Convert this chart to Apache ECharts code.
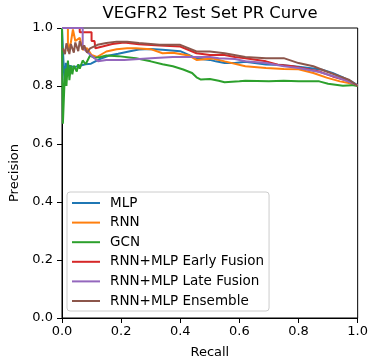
<!DOCTYPE html>
<html>
<head>
<meta charset="utf-8">
<script src="https://cdn.jsdelivr.net/npm/echarts@6/dist/echarts.min.js"></script>
<style>html,body{margin:0;padding:0;background:#fff;}#c{width:371px;height:364px;}</style>
</head>
<body>
<div id="c"></div>
<script>
const seriesNames = ['MLP', 'RNN', 'GCN', 'RNN+MLP Early Fusion', 'RNN+MLP Late Fusion', 'RNN+MLP Ensemble'];
const tickLabels = ['0.0', '0.2', '0.4', '0.6', '0.8', '1.0'];

const mlpRecall    = [0, 0.004, 0.006, 0.01, 0.013, 0.018, 0.025, 0.04, 0.06, 0.08, 0.098, 0.13, 0.16, 0.19, 0.23, 0.26, 0.3, 0.34, 0.4, 0.455, 0.5, 0.52, 0.55, 0.585, 0.62, 0.69, 0.75, 0.8, 0.85, 0.88, 0.915, 0.95, 0.98, 1.0];
const mlpPrecision = [1.0, 1.0, 0.86, 0.80, 0.88, 0.84, 0.87, 0.865, 0.87, 0.875, 0.877, 0.894, 0.905, 0.911, 0.92, 0.926, 0.928, 0.925, 0.92, 0.895, 0.89, 0.885, 0.879, 0.879, 0.884, 0.874, 0.872, 0.866, 0.86, 0.856, 0.845, 0.83, 0.815, 0.802];

const rnnRecall    = [0, 0.02, 0.02, 0.03, 0.037, 0.045, 0.06, 0.07, 0.085, 0.1, 0.118, 0.15, 0.185, 0.22, 0.25, 0.3, 0.34, 0.375, 0.43, 0.455, 0.51, 0.55, 0.62, 0.69, 0.75, 0.8, 0.85, 0.895, 0.94, 0.97, 1.0];
const rnnPrecision = [1.0, 1.0, 0.92, 0.95, 0.995, 0.955, 0.966, 0.925, 0.93, 0.907, 0.90, 0.919, 0.927, 0.93, 0.93, 0.927, 0.913, 0.915, 0.905, 0.89, 0.895, 0.885, 0.868, 0.862, 0.859, 0.858, 0.845, 0.829, 0.816, 0.81, 0.802];

const gcnRecall    = [0, 0.003, 0.003, 0.008, 0.012, 0.015, 0.02, 0.025, 0.03, 0.035, 0.04, 0.05, 0.055, 0.06, 0.07, 0.08, 0.095, 0.11, 0.13, 0.15, 0.19, 0.25, 0.3, 0.34, 0.375, 0.41, 0.44, 0.455, 0.47, 0.5, 0.53, 0.55, 0.6, 0.62, 0.7, 0.75, 0.8, 0.87, 0.9, 0.95, 0.98, 1.0];
const gcnPrecision = [1.0, 1.0, 0.67, 0.80, 0.86, 0.80, 0.888, 0.82, 0.87, 0.84, 0.87, 0.85, 0.875, 0.86, 0.888, 0.875, 0.905, 0.897, 0.90, 0.905, 0.903, 0.896, 0.885, 0.875, 0.868, 0.857, 0.845, 0.83, 0.822, 0.824, 0.818, 0.813, 0.816, 0.818, 0.816, 0.818, 0.816, 0.816, 0.808, 0.801, 0.803, 0.80];

const earlyRecall    = [0, 0.06, 0.06, 0.10, 0.10, 0.11, 0.113, 0.14, 0.17, 0.21, 0.26, 0.33, 0.4, 0.455, 0.5, 0.55, 0.585, 0.62, 0.69, 0.73, 0.78, 0.87, 0.915, 0.96, 1.0];
const earlyPrecision = [1.0, 1.0, 0.985, 0.985, 0.955, 0.955, 0.93, 0.937, 0.945, 0.95, 0.944, 0.94, 0.936, 0.913, 0.907, 0.907, 0.90, 0.896, 0.885, 0.873, 0.868, 0.85, 0.833, 0.82, 0.802];

const lateRecall    = [0, 0.07, 0.07, 0.083, 0.105, 0.122, 0.15, 0.21, 0.3, 0.375, 0.455, 0.5, 0.53, 0.585, 0.62, 0.69, 0.75, 0.8, 0.87, 0.93, 0.97, 1.0];
const latePrecision = [1.0, 1.0, 0.932, 0.919, 0.90, 0.885, 0.89, 0.89, 0.896, 0.90, 0.90, 0.90, 0.896, 0.893, 0.885, 0.879, 0.868, 0.862, 0.848, 0.83, 0.815, 0.802];

const ensRecall    = [0.003, 0.01, 0.015, 0.025, 0.03, 0.04, 0.045, 0.055, 0.06, 0.07, 0.075, 0.085, 0.095, 0.12, 0.15, 0.185, 0.22, 0.26, 0.33, 0.4, 0.455, 0.5, 0.55, 0.62, 0.69, 0.75, 0.8, 0.85, 0.895, 0.94, 0.97, 1.0];
const ensPrecision = [0.93, 0.91, 0.947, 0.91, 0.945, 0.915, 0.95, 0.92, 0.955, 0.925, 0.94, 0.915, 0.93, 0.942, 0.948, 0.953, 0.953, 0.948, 0.942, 0.942, 0.919, 0.919, 0.913, 0.90, 0.896, 0.896, 0.879, 0.868, 0.85, 0.833, 0.822, 0.80];

const colors = ['#1f77b4', '#ff7f0e', '#2ca02c', '#d62728', '#9467bd', '#8c564b'];
const allRecall = [mlpRecall, rnnRecall, gcnRecall, earlyRecall, lateRecall, ensRecall];
const allPrecision = [mlpPrecision, rnnPrecision, gcnPrecision, earlyPrecision, latePrecision, ensPrecision];

const font = 'DejaVu Sans';
const chart = echarts.init(document.getElementById('c'), null, {renderer: 'canvas'});

const axisCommon = {
  type: 'value', min: 0, max: 1, interval: 0.2,
  axisLine: {show: true, onZero: false, lineStyle: {color: '#000', width: 1}},
  axisTick: {show: true, inside: false, length: 5, lineStyle: {color: '#000', width: 1}},
  splitLine: {show: false},
  nameLocation: 'middle',
  nameTextStyle: {fontFamily: font, fontSize: 13, color: '#000'},
};

chart.setOption({
  animation: false,
  backgroundColor: '#fff',
  title: {
    text: 'VEGFR2 Test Set PR Curve',
    left: 210, textAlign: 'center', top: 6, padding: 0,
    textStyle: {fontFamily: font, fontSize: 16.4, fontWeight: 'normal', color: '#000'}
  },
  grid: {left: 62, right: 13, top: 28, bottom: 44, show: true, borderColor: '#000', borderWidth: 1, backgroundColor: 'transparent'},
  xAxis: Object.assign({}, axisCommon, {
    name: 'Recall', nameGap: 28,
    axisLabel: {fontFamily: font, fontSize: 13, color: '#000', margin: 7,
      formatter: v => tickLabels[Math.round(v * 5)]}
  }),
  yAxis: Object.assign({}, axisCommon, {
    name: 'Precision', nameGap: 33,
    axisLabel: {fontFamily: font, fontSize: 13, color: '#000', margin: 9,
      formatter: v => tickLabels[Math.round(v * 5)]}
  }),
  legend: {
    orient: 'vertical', left: 67, top: 192,
    padding: [4, 5, 3, 5],
    itemWidth: 28, itemHeight: 14, itemGap: 5.6,
    icon: 'path://M0,0H28V2H0Z',
    backgroundColor: 'rgba(255,255,255,0.8)', borderColor: '#cccccc', borderWidth: 1, borderRadius: 3,
    textStyle: {fontFamily: font, fontSize: 13.5, color: '#000', padding: [0, 0, 0, 5]},
    data: seriesNames
  },
  series: seriesNames.map((n, i) => ({
    name: n, type: 'line', symbol: 'none', clip: true,
    lineStyle: {color: colors[i], width: 2},
    itemStyle: {color: colors[i]},
    data: allRecall[i].map((r, j) => [r, allPrecision[i][j]])
  }))
});
</script>
</body>
</html>
